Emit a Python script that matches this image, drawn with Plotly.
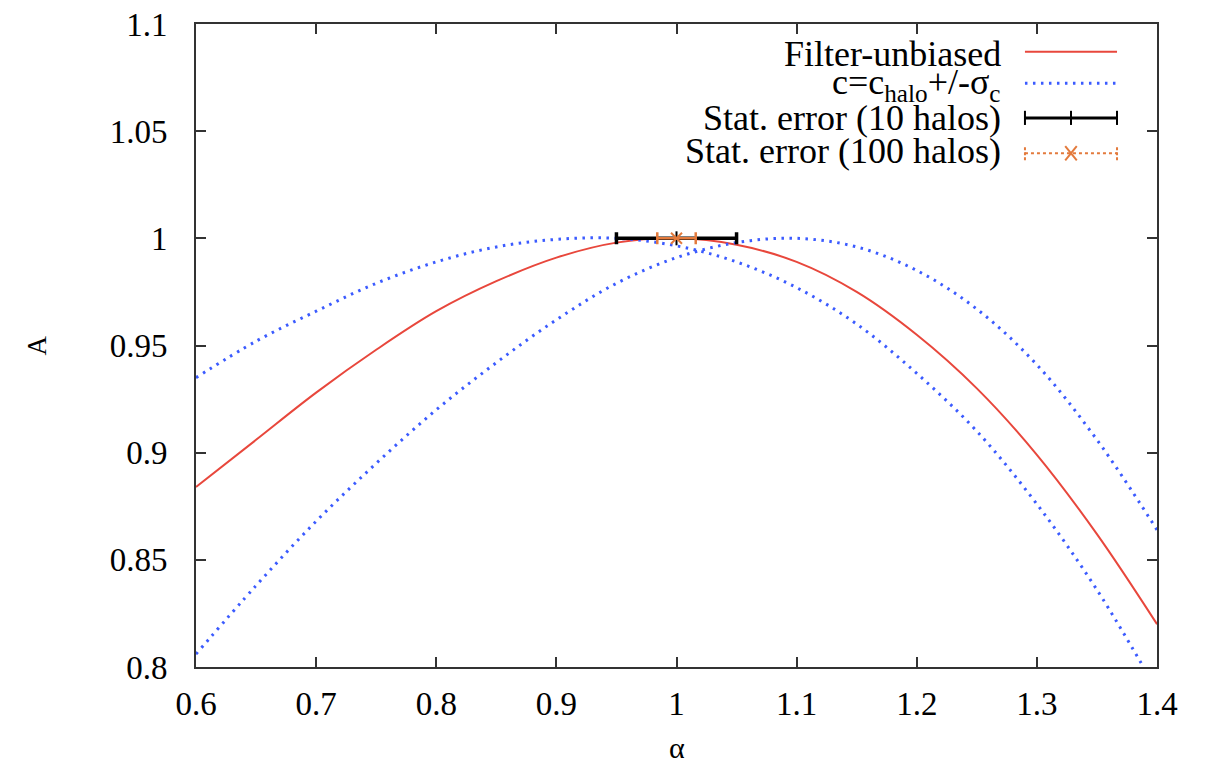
import plotly.graph_objects as go

# ---- data ----
alpha = [0.60, 0.65, 0.70, 0.75, 0.80, 0.85, 0.90, 0.95, 1.00, 1.05,
         1.10, 1.15, 1.20, 1.25, 1.30, 1.35, 1.40]
filter_unbiased = [0.884, 0.906, 0.928, 0.948, 0.966, 0.980, 0.991, 0.998, 1.000, 0.997,
                   0.989, 0.975, 0.955, 0.930, 0.899, 0.862, 0.820]
c_minus = [0.935, 0.952, 0.966, 0.979, 0.989, 0.996, 0.9995, 1.000, 0.9965, 0.989,
           0.977, 0.960, 0.937, 0.910, 0.876, 0.836, 0.789]
c_plus = [0.806, 0.838, 0.868, 0.895, 0.920, 0.942, 0.962, 0.979, 0.991, 0.998,
          1.000, 0.996, 0.985, 0.967, 0.941, 0.906, 0.864]

err_center_x = [1.0]
err_center_y = [1.0]
err_10 = [0.05]
err_100 = [0.016]

x_ticks = [0.6, 0.7, 0.8, 0.9, 1.0, 1.1, 1.2, 1.3, 1.4]
x_ticklabels = ["0.6", "0.7", "0.8", "0.9", "1", "1.1", "1.2", "1.3", "1.4"]
y_ticks = [0.8, 0.85, 0.9, 0.95, 1.0, 1.05, 1.1]
y_ticklabels = ["0.8", "0.85", "0.9", "0.95", "1", "1.05", "1.1"]

legend_labels = ["Filter-unbiased",
                 "c=c<sub>halo</sub>+/-σ<sub>c</sub>",
                 "Stat. error (10 halos)",
                 "Stat. error (100 halos)"]

RED = "#e8473c"
BLUE = "#3b5bff"
ORANGE = "#e37a3c"
SERIF = "Liberation Serif"

fig = go.Figure()

fig.add_trace(go.Scatter(x=alpha, y=filter_unbiased, mode="lines",
                         line=dict(color=RED, width=2, shape="spline", smoothing=1.0),
                         showlegend=False))
fig.add_trace(go.Scatter(x=alpha, y=c_minus, mode="lines",
                         line=dict(color=BLUE, width=3, dash="2.5px,5.5px", shape="spline", smoothing=1.0),
                         showlegend=False))
fig.add_trace(go.Scatter(x=alpha, y=c_plus, mode="lines",
                         line=dict(color=BLUE, width=3, dash="2.5px,5.5px", shape="spline", smoothing=1.0),
                         showlegend=False))
fig.add_trace(go.Scatter(x=err_center_x, y=err_center_y, mode="markers",
                         marker=dict(symbol="line-ns", size=10, color="black",
                                     line=dict(color="black", width=2)),
                         error_x=dict(type="data", array=err_10, color="black",
                                      thickness=3.5, width=6),
                         showlegend=False))
fig.add_trace(go.Scatter(x=err_center_x, y=err_center_y, mode="markers",
                         marker=dict(symbol="x-thin", size=11, color=ORANGE,
                                     line=dict(color=ORANGE, width=2)),
                         error_x=dict(type="data", array=err_100, color=ORANGE,
                                      thickness=2.5, width=6),
                         showlegend=False))

# ---- custom legend (text right-aligned, sample on the right) ----
rows_y = [0.954, 0.906, 0.854, 0.802]
x0, x1 = 0.8626, 0.9584
xm = (x0 + x1) / 2
text_x = 0.8398
annotations = []
for lbl, ry in zip(legend_labels, rows_y):
    annotations.append(dict(x=text_x, y=ry, xref="paper", yref="paper", text=lbl,
                            showarrow=False, xanchor="right", yanchor="middle",
                            font=dict(family=SERIF, size=36, color="black")))
shapes = []
shapes.append(dict(type="line", xref="paper", yref="paper", x0=x0, x1=x1,
                   y0=0.957, y1=0.957, line=dict(color=RED, width=2)))
shapes.append(dict(type="line", xref="paper", yref="paper", x0=x0, x1=x1,
                   y0=0.908, y1=0.908,
                   line=dict(color=BLUE, width=3, dash="2.5px,5.5px")))
# black error bar sample
ry = 0.854
cap = 0.011
shapes.append(dict(type="line", xref="paper", yref="paper", x0=x0, x1=x1, y0=ry, y1=ry,
                   line=dict(color="black", width=3)))
for xx in (x0, x1, xm):
    shapes.append(dict(type="line", xref="paper", yref="paper", x0=xx, x1=xx,
                       y0=ry - cap, y1=ry + cap, line=dict(color="black", width=2)))
# orange error bar sample
ry = 0.799
shapes.append(dict(type="line", xref="paper", yref="paper", x0=x0, x1=x1, y0=ry, y1=ry,
                   line=dict(color=ORANGE, width=2, dash="3px,3px")))
for xx in (x0, x1):
    shapes.append(dict(type="line", xref="paper", yref="paper", x0=xx, x1=xx,
                       y0=ry - cap, y1=ry + cap, line=dict(color=ORANGE, width=2, dash="3px,2px")))
dx = 0.006
shapes.append(dict(type="line", xref="paper", yref="paper", x0=xm - dx, x1=xm + dx,
                   y0=ry - cap, y1=ry + cap, line=dict(color=ORANGE, width=2)))
shapes.append(dict(type="line", xref="paper", yref="paper", x0=xm - dx, x1=xm + dx,
                   y0=ry + cap, y1=ry - cap, line=dict(color=ORANGE, width=2)))

# axis titles
annotations.append(dict(x=-0.165, y=0.5008, xref="paper", yref="paper", text="A",
                        showarrow=False, xanchor="center", yanchor="middle", textangle=-90,
                        font=dict(family=SERIF, size=27, color="black")))
annotations.append(dict(x=0.5, y=-0.125, xref="paper", yref="paper", text="α",
                        showarrow=False, xanchor="center", yanchor="middle",
                        font=dict(family=SERIF, size=30, color="black")))

axis_common = dict(showgrid=False, zeroline=False, showline=True, linecolor="#333333",
                   linewidth=2, mirror="allticks", ticks="inside", ticklen=10,
                   tickwidth=1.5, tickcolor="#333333", automargin=False,
                   ticklabeloverflow="allow",
                   tickfont=dict(family=SERIF, size=33, color="black"))

# the page body adds an 8px offset, so margins are reduced on the top/left accordingly
fig.update_layout(
    width=1206, height=771,
    margin=dict(l=188, r=57, t=16, b=112),
    paper_bgcolor="white", plot_bgcolor="white",
    xaxis=dict(range=[0.6, 1.4], tickvals=x_ticks, ticktext=x_ticklabels,
               ticklabelstandoff=6, **axis_common),
    yaxis=dict(range=[0.8, 1.1], tickvals=y_ticks, ticktext=y_ticklabels,
               ticklabelstandoff=20, **axis_common),
    annotations=annotations,
    shapes=shapes,
    showlegend=False,
)

fig.write_html("out.html")
